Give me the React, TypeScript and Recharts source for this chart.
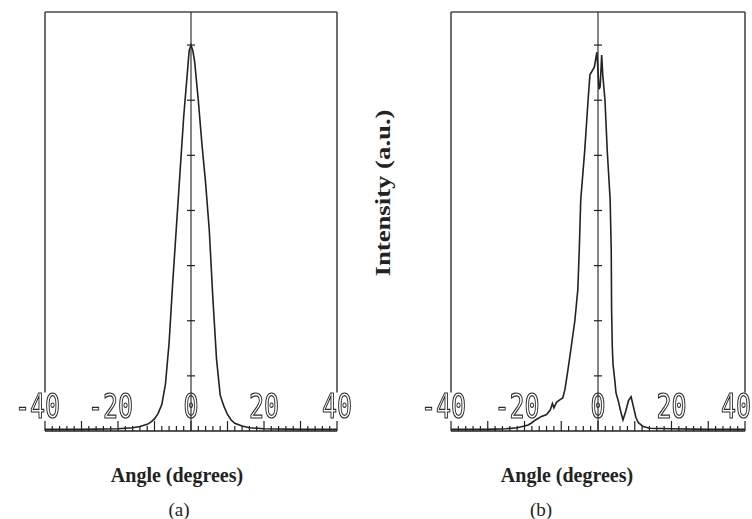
import { LineChart, Line, XAxis, YAxis, ReferenceLine } from 'recharts'

// panel (a): angle (degrees) vs intensity (a.u.)
const angleA = [-40, -30, -20, -16, -14, -12, -11, -10, -9, -8, -7, -6, -5, -4, -3, -2, -1, -0.5, 0, 0.5, 1, 2, 3, 4, 5, 6, 7, 8, 9, 10, 11, 12, 14, 16, 20, 30, 40]
const intensityA = [0.3, 0.3, 0.4, 0.6, 0.8, 1.2, 1.6, 2.2, 3.2, 4.8, 8.5, 16, 27, 37, 47, 57, 65, 69, 70, 69, 67, 60, 52, 45, 36.5, 24, 13, 6.5, 4.5, 3, 2, 1.4, 0.9, 0.6, 0.4, 0.3, 0.3]

// panel (b)
const angleB = [-40, -30, -25, -22, -20, -19, -18, -17, -15.5, -14, -13, -12.4, -12, -11.3, -10.5, -9.6, -9, -8.2, -7.4, -6.3, -5.5, -5.1, -4.7, -3.6, -2.7, -2.2, -1, -0.3, 0.3, 0.6, 1.0, 1.3, 1.9, 2.5, 3.3, 3.6, 3.7, 3.9, 4.1, 4.6, 4.9, 5.5, 6.2, 6.8, 7.5, 8.3, 9.0, 9.6, 10.3, 11, 12.3, 14, 20, 30, 40]
const intensityB = [0.3, 0.3, 0.4, 0.6, 0.9, 1.1, 1.5, 2.0, 2.6, 3.0, 3.8, 5.0, 4.2, 5.2, 5.6, 6.0, 7.5, 11, 14.7, 20, 25.6, 32.8, 41.9, 51, 60, 64.6, 66, 68.7, 62, 62.5, 68.2, 64.6, 60, 51, 42, 33, 22, 15, 12, 9, 6.9, 5.5, 3.5, 2.0, 3.5, 5.5, 6.2, 4.5, 2.5, 1.5, 0.8, 0.5, 0.4, 0.3, 0.3]

const angleTicks = Array.from({ length: 41 }, (_, i) => -40 + i * 2)
const angleLabels = [-40, -20, 0, 20, 40]
const intensityTicks = [10, 20, 30, 40, 50, 60, 70]
const intensityMax = 76
const frameFloor = 7

const INK = '#222'
const FRAME = '#4a4a4a'

const rowsA = angleA.map((angle, i) => ({ angle, intensity: intensityA[i] }))
const rowsB = angleB.map((angle, i) => ({ angle, intensity: intensityB[i] }))

function AngleTick(props: any) {
  const { x, y, payload, maxX } = props
  const v = payload.value
  const major = v % 10 === 0
  const fs = 25
  const adv = fs * 0.602
  const digits = String(Math.abs(v)).length
  // keep the last label inside the chart's right edge
  const right = Math.min(x + (digits * adv) / 2, maxX ?? Infinity)
  return (
    <g>
      <line x1={x} x2={x} y1={y} y2={y - (major ? 10 : 5)} stroke={INK} strokeWidth={1.2} />
      {angleLabels.includes(v) && (
        <g transform={`translate(${right},${y - 13}) scale(1,1.38)`} style={{ filter: 'grayscale(1)' }}>
          <text
            x={0}
            y={0}
            textAnchor="end"
            fontFamily="DejaVu Sans Mono"
            fontSize={fs}
            fill="none"
            stroke="#2a2a2a"
            strokeWidth={0.9}
          >
            {v < 0 ? `-${Math.abs(v)}` : `${v}`}
          </text>
        </g>
      )}
    </g>
  )
}

function AngleTitle({ cx, tag, tagX }: { cx: number; tag: string; tagX: number }) {
  return (
    <g>
      <text x={cx} y={482} textAnchor="middle" fontFamily="Liberation Serif" fontWeight="bold" fontSize={20} fill={INK}>
        Angle (degrees)
      </text>
      <text x={tagX} y={516} textAnchor="middle" fontFamily="Liberation Serif" fontSize={19} fill={INK}>
        {tag}
      </text>
    </g>
  )
}

function IntensityTitle() {
  const cx = 30
  const cy = 193
  return (
    <text
      x={cx}
      y={cy}
      transform={`rotate(-90 ${cx} ${cy})`}
      textAnchor="middle"
      fontFamily="Liberation Serif"
      fontWeight="bold"
      fontSize={20}
      textLength={167}
      lengthAdjust="spacingAndGlyphs"
      fill={INK}
    >
      Intensity (a.u.)
    </text>
  )
}

function frame() {
  return [
    <ReferenceLine key="top" ifOverflow="visible" segment={[{ x: -40, y: intensityMax }, { x: 40, y: intensityMax }]} stroke={FRAME} strokeWidth={1.6} />,
    <ReferenceLine key="left" ifOverflow="visible" segment={[{ x: -40, y: frameFloor }, { x: -40, y: intensityMax }]} stroke={FRAME} strokeWidth={1.6} />,
    <ReferenceLine key="right" ifOverflow="visible" segment={[{ x: 40, y: frameFloor }, { x: 40, y: intensityMax }]} stroke={FRAME} strokeWidth={1.6} />,
    <ReferenceLine key="zero" ifOverflow="visible" segment={[{ x: 0, y: 0 }, { x: 0, y: intensityMax }]} stroke={INK} strokeWidth={1.1} />,
    ...intensityTicks.map((t) => (
      <ReferenceLine key={`c${t}`} ifOverflow="visible" segment={[{ x: -1.1, y: t }, { x: 1.1, y: t }]} stroke={INK} strokeWidth={1.2} />
    )),
  ]
}

function xAxisProps(maxX: number) {
  return {
    dataKey: 'angle',
    type: 'number' as const,
    domain: [-40, 40],
    ticks: angleTicks,
    interval: 0 as const,
    tick: <AngleTick maxX={maxX} />,
    tickLine: false,
    tickSize: 0,
    tickMargin: 0,
    height: 88,
    axisLine: { stroke: INK, strokeWidth: 1.6 },
    allowDataOverflow: true,
  }
}

export default function App() {
  return (
    <div style={{ position: 'absolute', left: 0, top: 0, width: 752, height: 519, background: '#fff', overflow: 'hidden' }}>
      <div style={{ position: 'absolute', left: 0, top: 0 }}>
        <LineChart width={360} height={519} data={rowsA} margin={{ top: 12, right: 23, bottom: 0, left: 45 }}>
          <XAxis {...xAxisProps(358)} label={<AngleTitle cx={177} tag="(a)" tagX={179} />} />
          <YAxis type="number" domain={[0, intensityMax]} hide allowDataOverflow />
          {frame()}
          <Line type="linear" dataKey="intensity" stroke={INK} strokeWidth={1.6} dot={false} isAnimationActive={false} />
        </LineChart>
      </div>
      <div style={{ position: 'absolute', left: 360, top: 0 }}>
        <LineChart width={392} height={519} data={rowsB} margin={{ top: 12, right: 7, bottom: 0, left: 0 }}>
          <XAxis {...xAxisProps(391)} label={<AngleTitle cx={207} tag="(b)" tagX={181} />} />
          <YAxis
            type="number"
            domain={[0, intensityMax]}
            width={91}
            tick={false}
            tickLine={false}
            axisLine={false}
            allowDataOverflow
            label={<IntensityTitle />}
          />
          {frame()}
          <Line type="linear" dataKey="intensity" stroke={INK} strokeWidth={1.6} dot={false} isAnimationActive={false} />
        </LineChart>
      </div>
    </div>
  )
}
